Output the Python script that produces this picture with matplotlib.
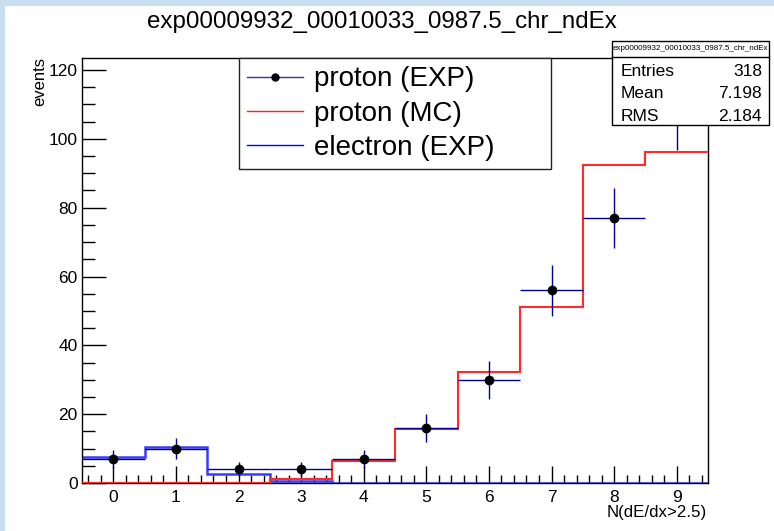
import numpy as np
import matplotlib
matplotlib.use("Agg")
import matplotlib.pyplot as plt
from matplotlib.lines import Line2D
from matplotlib.patches import Rectangle
from matplotlib.ticker import MultipleLocator

plt.rcParams['font.family'] = ['Liberation Sans', 'DejaVu Sans']

# ---- data ----
bins = [0, 1, 2, 3, 4, 5, 6, 7, 8, 9]
proton_exp = [7, 10, 4, 4, 7, 16, 30, 56, 77, 107]
proton_mc = [0, 0, 0, 1.1, 6.5, 15.7, 32.3, 51, 92.5, 96.3]
electron_exp = [7.6, 10.6, 2.5, 0.5, 0, 0, 0, 0, 0, 0]
title = "exp00009932_00010033_0987.5_chr_ndEx"
stats_labels = ["Entries", "Mean", "RMS"]
stats_values = ["318", "7.198", "2.184"]

W, H = 774, 531
fig = plt.figure(figsize=(W / 100, H / 100), dpi=100, facecolor='white')

def fx(px):
    return px / W

def fy(py):
    return 1 - py / H

# background strips (canvas texture)
fig.patches.append(Rectangle((0, 0), fx(5), 1, transform=fig.transFigure,
                             facecolor='#c9dcf0', edgecolor='none', zorder=0))
fig.patches.append(Rectangle((0, fy(6)), 1, fy(0) - fy(6), transform=fig.transFigure,
                             facecolor='#c9dcf0', edgecolor='none', zorder=0))

ax = fig.add_axes([fx(82), fy(483), fx(708) - fx(82), fy(58) - fy(483)])
ax.set_xlim(-0.5, 9.5)
ax.set_ylim(0, 123.5)

edges = np.arange(len(bins) + 1) - 0.5
ax.stairs(electron_exp, edges, baseline=None, color='#3a3aff', lw=1.8, zorder=2)
ax.stairs(proton_mc, edges, baseline=None, color='#ff2a2a', lw=1.5, zorder=3)

yerr = np.sqrt(np.array(proton_exp, dtype=float))
ax.errorbar(bins, proton_exp, yerr=yerr, xerr=0.5, fmt='o', color='black',
            ms=6, ecolor='#000099', elinewidth=1.0, capsize=0, zorder=4)

for s in ax.spines.values():
    s.set_linewidth(1.0)
    s.set_color('black')

ax.xaxis.set_major_locator(MultipleLocator(1))
ax.xaxis.set_minor_locator(MultipleLocator(0.2))
ax.yaxis.set_major_locator(MultipleLocator(20))
ax.yaxis.set_minor_locator(MultipleLocator(5))
ax.tick_params(axis='x', which='major', direction='in', length=12, width=1, labelsize=12.5, pad=5)
ax.tick_params(axis='x', which='minor', direction='in', length=6, width=1)
ax.tick_params(axis='y', which='major', direction='in', length=17, width=1, labelsize=12.5, pad=3)
ax.tick_params(axis='y', which='minor', direction='in', length=9, width=1)

fig.text(fx(707), fy(512), "N(dE/dx>2.5)", ha='right', va='center', fontsize=12.2)
fig.text(fx(40), fy(57), "events", ha='center', va='top', rotation=90, fontsize=12)

fig.text(fx(382), fy(22), title, ha='center', va='center', fontsize=17.4)

# legend
handles = [
    Line2D([], [], color='#3333aa', lw=1.0, marker='o', mfc='black', mec='black', ms=5),
    Line2D([], [], color='#ff2020', lw=1.0),
    Line2D([], [], color='#0000ff', lw=1.0),
]
labels = ["proton (EXP)", "proton (MC)", "electron (EXP)"]
leg = fig.legend(handles, labels, loc='upper left',
                 bbox_to_anchor=(fx(239), fy(165), fx(551) - fx(239), fy(58) - fy(165)),
                 mode='expand', borderaxespad=0, fontsize=20, frameon=True,
                 fancybox=False, edgecolor='#222222', framealpha=1,
                 handlelength=2.0, handletextpad=0.4, labelspacing=0.3,
                 borderpad=0.3)
leg.get_frame().set_linewidth(1.0)
leg.set_zorder(10)

# stats box
x0, x1 = 612, 769
y0, ysep, y1 = 41, 57, 125
fig.patches.append(Rectangle((fx(x0), fy(y1)), fx(x1) - fx(x0), fy(y0) - fy(y1),
                             transform=fig.transFigure, facecolor='white',
                             edgecolor='black', lw=1.0, zorder=20))
fig.lines.append(Line2D([fx(x0), fx(x1)], [fy(ysep), fy(ysep)], transform=fig.transFigure,
                        color='black', lw=1.0, zorder=21))
fig.text(fx((x0 + x1) / 2), fy(49), title, ha='center', va='center', fontsize=5.8, zorder=22)
for i, (lab, val) in enumerate(zip(stats_labels, stats_values)):
    yy = 72 + i * 22
    fig.text(fx(621), fy(yy), lab, ha='left', va='center', fontsize=12.5, zorder=22)
    fig.text(fx(762), fy(yy), val, ha='right', va='center', fontsize=12.5, zorder=22)

fig.savefig("out.png", dpi=100, facecolor='white')
